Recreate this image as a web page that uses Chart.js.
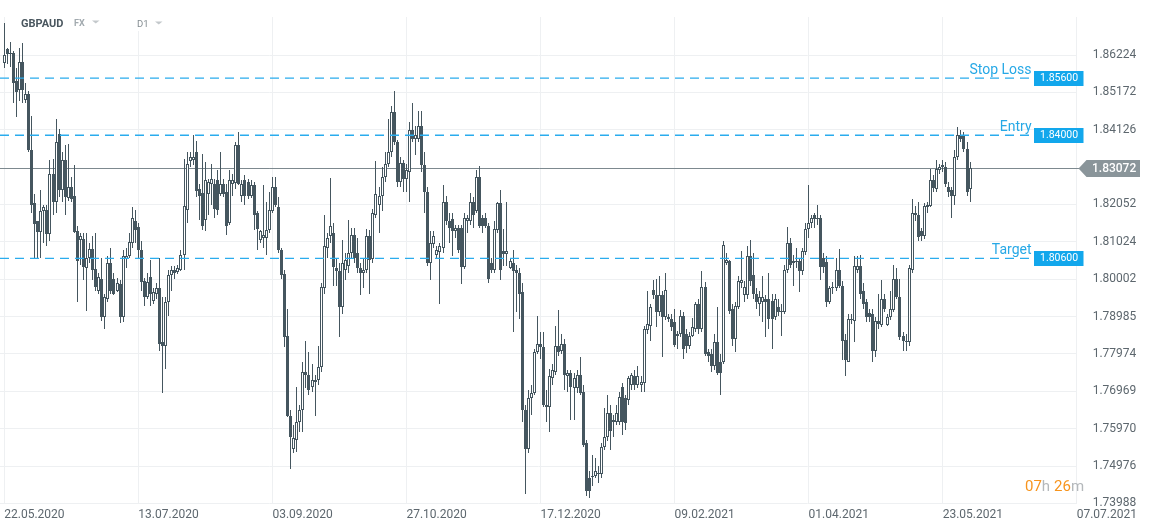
<!DOCTYPE html>
<html>
<head>
<meta charset="utf-8">
<title>GBPAUD D1</title>
<script src="https://cdn.jsdelivr.net/npm/chart.js@4.4.0/dist/chart.umd.min.js"></script>
<style>
  html, body { margin: 0; padding: 0; background: #fff; }
  #wrap { width: 1151px; height: 529px; }
</style>
</head>
<body>
<div id="wrap"><canvas id="chart" width="1151" height="529"></canvas></div>
<script>
// ---- data ----
const symbol = "GBPAUD";
const dateLabels = ["22.05.2020", "13.07.2020", "03.09.2020", "27.10.2020", "17.12.2020",
  "09.02.2021", "01.04.2021", "23.05.2021", "07.07.2021"];
const dateIndexes = [0, 44, 88, 132, 176, 220, 264, 308, 352];
const priceTicks = [1.73988, 1.74976, 1.75970, 1.76969, 1.77974, 1.78985, 1.80002,
  1.81024, 1.82052, 1.84126, 1.85172, 1.86224];
const levelNames = ["Stop Loss", "Entry", "Target"];
const levelPrices = [1.856, 1.840, 1.806];
const lastPrice = 1.83072;
const countdown = ["07", "h", "26", "m"];

const opens = [
  1.8600,1.8638,1.8629,1.8629,1.8549,1.8524,1.8603,1.8495,1.8512,1.8357,
  1.8208,1.8161,1.8130,1.8188,1.8191,1.8124,1.8289,1.8211,1.8402,1.8244,
  1.8329,1.8222,1.8253,1.8230,1.8133,1.8108,1.8111,1.8030,1.8058,1.8083,
  1.8027,1.7967,1.8002,1.7898,1.7947,1.8044,1.8000,1.7969,1.7986,1.7898,
  1.8055,1.8063,1.8099,1.8161,1.8144,1.8080,1.7994,1.7953,1.8005,1.7942,
  1.7961,1.7975,1.7829,1.7818,1.7939,1.8011,1.8025,1.8019,1.8025,1.8066,
  1.8191,1.8326,1.8329,1.8351,1.8247,1.8236,1.8163,1.8233,1.8261,1.8261,
  1.8272,1.8233,1.8261,1.8239,1.8155,1.8261,1.8264,1.8371,1.8230,1.8272,
  1.8267,1.8230,1.8258,1.8183,1.8108,1.8113,1.8113,1.8136,1.8188,1.8253,
  1.8197,1.8080,1.8014,1.7846,1.7631,1.7544,1.7566,1.7615,1.7647,1.7750,
  1.7742,1.7709,1.7723,1.7726,1.7761,1.7975,1.8086,1.8119,1.8127,1.8030,
  1.8022,1.7925,1.8025,1.8036,1.8072,1.8122,1.8072,1.8030,1.8016,1.8025,
  1.8119,1.8055,1.8177,1.8205,1.8230,1.8281,1.8317,1.8351,1.8461,1.8379,
  1.8267,1.8320,1.8275,1.8295,1.8413,1.8388,1.8388,1.8422,1.8315,1.8239,
  1.8044,1.8097,1.8066,1.8074,1.8086,1.8211,1.8161,1.8164,1.8133,1.8141,
  1.8141,1.8033,1.8161,1.8161,1.8211,1.8188,1.8281,1.8169,1.8169,1.8147,
  1.8044,1.8025,1.8136,1.8208,1.8077,1.8069,1.8030,1.8044,1.8025,1.8016,
  1.7964,1.7647,1.7544,1.7680,1.7693,1.7802,1.7824,1.7816,1.7661,1.7655,
  1.7734,1.7750,1.7818,1.7805,1.7824,1.7737,1.7747,1.7707,1.7707,1.7742,
  1.7696,1.7558,1.7467,1.7469,1.7472,1.7480,1.7477,1.7547,1.7574,1.7639,
  1.7615,1.7615,1.7615,1.7709,1.7680,1.7674,1.7715,1.7737,1.7715,1.7715,
  1.7720,1.7862,1.7873,1.7972,1.7958,1.7912,1.7956,1.7898,1.7892,1.7892,
  1.7884,1.7846,1.7851,1.7901,1.7851,1.7818,1.7846,1.7865,1.7934,1.7865,
  1.7980,1.7802,1.7797,1.7764,1.7829,1.7777,1.7777,1.8044,1.8050,1.7920,
  1.7838,1.7925,1.7989,1.7956,1.7956,1.8063,1.8011,1.7961,1.7934,1.7939,
  1.7945,1.7945,1.7942,1.7898,1.7925,1.7912,1.7912,1.8025,1.8099,1.8050,
  1.8047,1.8050,1.8022,1.8074,1.8138,1.8155,1.8175,1.8169,1.8169,1.8058,
  1.8047,1.7939,1.7975,1.7975,1.8025,1.7983,1.7835,1.7777,1.7890,1.7887,
  1.8025,1.8036,1.7967,1.7939,1.7909,1.7906,1.7805,1.7887,1.7876,1.7945,
  1.7876,1.7898,1.7917,1.8002,1.7953,1.7846,1.7829,1.7829,1.8025,1.8183,
  1.8175,1.8133,1.8119,1.8197,1.8202,1.8272,1.8247,1.8300,1.8309,1.8309,
  1.8253,1.8244,1.8230,1.8337,1.8399,1.8399,1.8360,1.8247
];
const highs = [
  1.8712,1.8643,1.8660,1.8635,1.8586,1.8643,1.8655,1.8543,1.8521,1.8450,
  1.8233,1.8161,1.8244,1.8205,1.8205,1.8329,1.8332,1.8444,1.8416,1.8351,
  1.8371,1.8374,1.8281,1.8315,1.8147,1.8127,1.8127,1.8127,1.8099,1.8119,
  1.8127,1.8016,1.8058,1.7961,1.8063,1.8086,1.8016,1.8003,1.7997,1.8080,
  1.8086,1.8127,1.8197,1.8189,1.8155,1.8105,1.8003,1.8016,1.8052,1.7975,
  1.7989,1.8058,1.7953,1.7953,1.8025,1.8036,1.8036,1.8038,1.8080,1.8331,
  1.8351,1.8351,1.8399,1.8382,1.8261,1.8345,1.8323,1.8275,1.8317,1.8275,
  1.8300,1.8351,1.8275,1.8261,1.8300,1.8289,1.8379,1.8407,1.8272,1.8286,
  1.8275,1.8272,1.8267,1.8186,1.8136,1.8258,1.8211,1.8239,1.8281,1.8281,
  1.8225,1.8086,1.8025,1.7920,1.7647,1.7606,1.7709,1.7661,1.7777,1.7832,
  1.7802,1.7769,1.7742,1.7818,1.7989,1.8175,1.8127,1.8278,1.8155,1.8058,
  1.8044,1.8108,1.8072,1.8163,1.8141,1.8141,1.8113,1.8044,1.8058,1.8138,
  1.8136,1.8194,1.8326,1.8253,1.8309,1.8351,1.8444,1.8478,1.8521,1.8385,
  1.8337,1.8329,1.8317,1.8433,1.8487,1.8422,1.8464,1.8464,1.8351,1.8253,
  1.8133,1.8133,1.8091,1.8099,1.8258,1.8230,1.8183,1.8183,1.8150,1.8150,
  1.8150,1.8183,1.8177,1.8236,1.8225,1.8300,1.8312,1.8177,1.8183,1.8155,
  1.8058,1.8161,1.8211,1.8244,1.8138,1.8211,1.8058,1.8080,1.8039,1.8030,
  1.7989,1.7661,1.7701,1.7715,1.7810,1.7901,1.7857,1.7857,1.7701,1.7756,
  1.7769,1.7873,1.7917,1.7851,1.7838,1.7755,1.7755,1.7747,1.7755,1.7788,
  1.7715,1.7566,1.7485,1.7526,1.7520,1.7499,1.7558,1.7652,1.7688,1.7661,
  1.7633,1.7661,1.7696,1.7720,1.7688,1.7737,1.7745,1.7755,1.7764,1.7737,
  1.7873,1.7967,1.7934,1.7997,1.8000,1.8008,1.7967,1.8016,1.7906,1.7906,
  1.7920,1.7860,1.7917,1.7912,1.7865,1.7857,1.7895,1.7939,1.7947,1.8022,
  1.7992,1.7810,1.7810,1.7851,1.7925,1.7797,1.8105,1.8072,1.8052,1.7934,
  1.7939,1.8008,1.8077,1.7994,1.8091,1.8108,1.8072,1.7975,1.7967,1.8008,
  1.7956,1.8016,1.7961,1.7961,1.7945,1.7934,1.8039,1.8144,1.8113,1.8066,
  1.8086,1.8058,1.8086,1.8155,1.8258,1.8177,1.8183,1.8205,1.8177,1.8072,
  1.8063,1.7983,1.7992,1.8058,1.8083,1.7994,1.7851,1.7906,1.7906,1.8063,
  1.8063,1.8066,1.7989,1.7947,1.7920,1.7920,1.7898,1.7961,1.7997,1.7961,
  1.7906,1.7967,1.8039,1.8030,1.8000,1.7857,1.7851,1.8039,1.8219,1.8202,
  1.8211,1.8141,1.8208,1.8211,1.8303,1.8286,1.8329,1.8317,1.8329,1.8323,
  1.8267,1.8253,1.8357,1.8419,1.8413,1.8407,1.8379,1.8323
];
const lows = [
  1.8586,1.8598,1.8589,1.8487,1.8447,1.8492,1.8487,1.8487,1.8351,1.8183,
  1.8058,1.8058,1.8058,1.8099,1.8091,1.8105,1.8175,1.8183,1.8225,1.8211,
  1.8177,1.8216,1.8211,1.8127,1.7939,1.8039,1.7997,1.7914,1.8044,1.7997,
  1.7967,1.7961,1.7887,1.7865,1.7939,1.7961,1.7956,1.7964,1.7881,1.7884,
  1.8030,1.8058,1.8086,1.8099,1.8058,1.7969,1.7928,1.7945,1.7928,1.7934,
  1.7947,1.7805,1.7693,1.7756,1.7901,1.7967,1.8002,1.8014,1.8022,1.8025,
  1.8155,1.8309,1.8314,1.8225,1.8163,1.8136,1.8133,1.8177,1.8205,1.8169,
  1.8177,1.8230,1.8225,1.8122,1.8150,1.8230,1.8247,1.8258,1.8211,1.8205,
  1.8219,1.8222,1.8136,1.8080,1.8099,1.8086,1.8066,1.8127,1.8183,1.8197,
  1.8072,1.8000,1.7816,1.7628,1.7491,1.7531,1.7534,1.7588,1.7588,1.7707,
  1.7688,1.7696,1.7631,1.7715,1.7750,1.7961,1.8058,1.8099,1.7983,1.7983,
  1.7843,1.7906,1.7997,1.8016,1.8058,1.8044,1.8016,1.7956,1.7975,1.8016,
  1.7961,1.8044,1.8169,1.8127,1.8188,1.8267,1.8309,1.8337,1.8371,1.8253,
  1.8253,1.8239,1.8239,1.8211,1.8379,1.8343,1.8379,1.8295,1.8183,1.8036,
  1.7997,1.8086,1.8058,1.7934,1.8072,1.8150,1.8099,1.8063,1.8113,1.8072,
  1.7986,1.8027,1.8127,1.8150,1.8141,1.8183,1.8141,1.8127,1.8141,1.7989,
  1.8016,1.8016,1.8127,1.7997,1.8036,1.8036,1.8027,1.7857,1.7912,1.7892,
  1.7615,1.7424,1.7531,1.7633,1.7688,1.7797,1.7783,1.7655,1.7615,1.7588,
  1.7715,1.7742,1.7791,1.7797,1.7701,1.7696,1.7620,1.7620,1.7693,1.7688,
  1.7547,1.7418,1.7413,1.7445,1.7466,1.7453,1.7466,1.7539,1.7563,1.7539,
  1.7574,1.7606,1.7606,1.7579,1.7593,1.7661,1.7701,1.7701,1.7707,1.7696,
  1.7696,1.7851,1.7832,1.7947,1.7870,1.7901,1.7788,1.7890,1.7884,1.7860,
  1.7816,1.7810,1.7843,1.7783,1.7799,1.7810,1.7843,1.7857,1.7851,1.7857,
  1.7791,1.7775,1.7750,1.7755,1.7742,1.7688,1.7769,1.8039,1.7906,1.7818,
  1.7802,1.7920,1.7975,1.7939,1.7947,1.7983,1.7947,1.7920,1.7901,1.7884,
  1.7843,1.7865,1.7810,1.7890,1.7901,1.7846,1.7906,1.8016,1.8030,1.7983,
  1.8030,1.7964,1.8011,1.8066,1.8113,1.8141,1.8141,1.8150,1.7997,1.8016,
  1.7925,1.7934,1.7961,1.7967,1.7975,1.7780,1.7737,1.7775,1.7879,1.7829,
  1.8016,1.7947,1.7920,1.7884,1.7884,1.7777,1.7788,1.7865,1.7870,1.7912,
  1.7873,1.7890,1.7912,1.7945,1.7835,1.7805,1.7805,1.7818,1.8016,1.8161,
  1.8105,1.8105,1.8111,1.8183,1.8197,1.8239,1.8239,1.8289,1.8295,1.8253,
  1.8225,1.8169,1.8205,1.8329,1.8379,1.8351,1.8228,1.8211
];
const closes = [
  1.8623,1.8626,1.8626,1.8543,1.8518,1.8603,1.8524,1.8512,1.8357,1.8205,
  1.8152,1.8130,1.8186,1.8197,1.8124,1.8289,1.8213,1.8379,1.8244,1.8329,
  1.8225,1.8253,1.8219,1.8130,1.8050,1.8119,1.8033,1.8058,1.8083,1.8025,
  1.7980,1.8005,1.7898,1.7953,1.8044,1.7969,1.7961,1.7989,1.7898,1.8063,
  1.8063,1.8102,1.8169,1.8136,1.8080,1.7992,1.7953,1.7992,1.7961,1.7964,
  1.7975,1.7824,1.7818,1.7939,1.8011,1.8025,1.8016,1.8030,1.8066,1.8202,
  1.8317,1.8337,1.8337,1.8242,1.8230,1.8147,1.8272,1.8267,1.8275,1.8194,
  1.8191,1.8261,1.8233,1.8147,1.8272,1.8272,1.8371,1.8261,1.8261,1.8230,
  1.8230,1.8258,1.8175,1.8138,1.8133,1.8122,1.8136,1.8191,1.8253,1.8205,
  1.8080,1.8011,1.7843,1.7631,1.7574,1.7571,1.7615,1.7647,1.7750,1.7742,
  1.7701,1.7726,1.7728,1.7761,1.7980,1.8091,1.8113,1.8147,1.8033,1.8022,
  1.7925,1.8044,1.8052,1.8072,1.8122,1.8058,1.8030,1.8016,1.8025,1.8119,
  1.8052,1.8183,1.8233,1.8230,1.8281,1.8317,1.8351,1.8461,1.8379,1.8267,
  1.8320,1.8275,1.8300,1.8413,1.8388,1.8399,1.8422,1.8315,1.8239,1.8044,
  1.8099,1.8119,1.8080,1.8091,1.8211,1.8161,1.8141,1.8133,1.8141,1.8080,
  1.8033,1.8169,1.8169,1.8211,1.8175,1.8281,1.8147,1.8147,1.8147,1.8000,
  1.8025,1.8138,1.8208,1.8025,1.8069,1.8077,1.8050,1.8022,1.8016,1.7961,
  1.7647,1.7544,1.7680,1.7693,1.7802,1.7824,1.7816,1.7661,1.7655,1.7737,
  1.7755,1.7818,1.7802,1.7824,1.7742,1.7747,1.7709,1.7734,1.7742,1.7693,
  1.7553,1.7432,1.7432,1.7472,1.7485,1.7477,1.7547,1.7574,1.7639,1.7590,
  1.7620,1.7639,1.7682,1.7615,1.7612,1.7734,1.7742,1.7715,1.7737,1.7723,
  1.7865,1.7879,1.7925,1.7958,1.7912,1.7956,1.7898,1.7972,1.7898,1.7870,
  1.7821,1.7851,1.7901,1.7810,1.7818,1.7846,1.7870,1.7934,1.7865,1.7980,
  1.7797,1.7791,1.7764,1.7829,1.7747,1.7747,1.8094,1.8052,1.7914,1.7838,
  1.7928,1.7994,1.7997,1.7980,1.8063,1.7994,1.7961,1.7939,1.7953,1.7953,
  1.7939,1.7892,1.7892,1.7945,1.7912,1.7914,1.8025,1.8099,1.8039,1.8044,
  1.8050,1.8022,1.8077,1.8138,1.8155,1.8169,1.8164,1.8164,1.8033,1.8033,
  1.7939,1.7975,1.7980,1.8025,1.7983,1.7832,1.7780,1.7892,1.7892,1.8036,
  1.8036,1.7961,1.7934,1.7898,1.7898,1.7805,1.7887,1.7879,1.7945,1.7920,
  1.7898,1.7920,1.8002,1.7953,1.7843,1.7832,1.7832,1.8030,1.8183,1.8175,
  1.8116,1.8119,1.8200,1.8205,1.8272,1.8250,1.8303,1.8309,1.8314,1.8261,
  1.8239,1.8228,1.8337,1.8399,1.8388,1.8360,1.8239,1.83072
];

// ---- styling ----
const CANDLE = "#45565f";
const GRID = "#eef0f2";
const AXIS_TEXT = "#5d676e";
const LEVEL_BLUE = "#12a7ec";
const LEVEL_LINE = "#2aaced";
const LEVEL_TEXT = "#26a8e6";

Chart.defaults.font.family = "Roboto, 'Open Sans', sans-serif";

const wickData = opens.map((o, i) => ({ x: i, y: [lows[i], highs[i]] }));
const bodyData = opens.map((o, i) => ({ x: i, y: [o, closes[i]] }));
const bodyFill = opens.map((o, i) => (closes[i] >= o ? "#ffffff" : CANDLE));

// snap the bar elements to whole pixels so candles stay crisp
const pixelSnap = {
  id: "pixelSnap",
  afterDatasetsUpdate(chart) {
    chart.data.datasets.forEach((ds, d) => {
      chart.getDatasetMeta(d).data.forEach(el => {
        el.x = Math.floor(el.x) + 0.5;
        el.y = Math.round(el.y);
        el.base = Math.round(el.base);
      });
    });
  }
};

// lines, tags and header that sit on top of the candles
const overlay = {
  id: "overlay",
  beforeDatasetsDraw(chart) {
    const { ctx, chartArea: a, scales: { y } } = chart;
    const py = Math.round(y.getPixelForValue(lastPrice)) + 0.5;
    ctx.save();
    ctx.strokeStyle = "#7d898f";
    ctx.lineWidth = 1;
    ctx.beginPath();
    ctx.moveTo(a.left, py);
    ctx.lineTo(a.right + 3, py);
    ctx.stroke();
    ctx.restore();
  },
  afterDatasetsDraw(chart) {
    const { ctx, chartArea: a, scales: { y } } = chart;
    ctx.save();

    // trade levels
    levelPrices.forEach((p, k) => {
      const py = y.getPixelForValue(p) + 1;
      ctx.strokeStyle = LEVEL_LINE;
      ctx.lineWidth = 1.4;
      ctx.setLineDash([9, 6]);
      ctx.beginPath();
      ctx.moveTo(a.left, py);
      ctx.lineTo(1034, py);
      ctx.stroke();
      ctx.setLineDash([]);

      ctx.fillStyle = LEVEL_BLUE;
      ctx.fillRect(1034, Math.round(py - 7.5), 49.5, 15);
      ctx.fillStyle = "#ffffff";
      ctx.font = "10.5px Roboto";
      ctx.textAlign = "left";
      ctx.textBaseline = "middle";
      ctx.fillText(p.toFixed(5), 1040, Math.round(py) + 0.5);

      ctx.fillStyle = LEVEL_TEXT;
      ctx.font = "14px Roboto";
      ctx.textAlign = "right";
      ctx.textBaseline = "alphabetic";
      ctx.fillText(levelNames[k], 1031.5, py - 4.5);
    });

    // last price tag
    const lp = Math.round(y.getPixelForValue(lastPrice)) + 0.5;
    ctx.fillStyle = "#8a959a";
    ctx.beginPath();
    ctx.moveTo(1078.5, lp);
    ctx.lineTo(1086.5, lp - 8.5);
    ctx.lineTo(1140, lp - 8.5);
    ctx.lineTo(1140, lp + 8.5);
    ctx.lineTo(1086.5, lp + 8.5);
    ctx.closePath();
    ctx.fill();
    ctx.fillStyle = "#ffffff";
    ctx.font = "500 12px Roboto";
    ctx.textAlign = "left";
    ctx.textBaseline = "middle";
    ctx.fillText(lastPrice.toFixed(5), 1092, lp + 0.5);

    // candle countdown
    ctx.font = "15px Roboto";
    ctx.textBaseline = "alphabetic";
    let cx = 1025;
    countdown.forEach((part, k) => {
      ctx.fillStyle = k % 2 === 0 ? "#f7941d" : "#b4b8bb";
      ctx.fillText(part, cx, 490.5);
      cx += ctx.measureText(part).width + (k === 1 ? 4 : 0);
    });

    // header
    ctx.fillStyle = "#ffffff";
    ctx.fillRect(12, 0, 158, 31);
    ctx.fillStyle = "#4a575f";
    ctx.font = "bold 11px Roboto";
    ctx.fillText(symbol, 21, 26.5);
    ctx.fillStyle = "#a2aaaf";
    ctx.font = "bold 9px Roboto";
    ctx.fillText("FX", 74, 26);
    ctx.fillStyle = "#838c91";
    ctx.font = "9.5px Roboto";
    ctx.fillText("D1", 137, 26.5);
    ctx.fillStyle = "#c3c8cb";
    [[92, 20.5], [155, 21.5]].forEach(([tx, ty]) => {
      ctx.beginPath();
      ctx.moveTo(tx, ty);
      ctx.lineTo(tx + 7.5, ty);
      ctx.lineTo(tx + 3.75, ty + 3);
      ctx.closePath();
      ctx.fill();
    });

    ctx.restore();
  }
};

new Chart(document.getElementById("chart"), {
  type: "bar",
  data: {
    datasets: [
      {
        label: "body",
        data: bodyData,
        order: 0,
        grouped: false,
        barThickness: 3,
        minBarLength: 1,
        inflateAmount: 0,
        backgroundColor: bodyFill,
        borderColor: CANDLE,
        borderWidth: 1,
        borderSkipped: false
      },
      {
        label: "wick",
        data: wickData,
        order: 1,
        grouped: false,
        barThickness: 1,
        inflateAmount: 0,
        backgroundColor: CANDLE,
        borderWidth: 0
      }
    ]
  },
  options: {
    responsive: false,
    animation: false,
    devicePixelRatio: 1,
    layout: { padding: { top: 17, left: 0, right: 0, bottom: 0 } },
    plugins: { legend: { display: false }, tooltip: { enabled: false } },
    scales: {
      x: {
        type: "linear",
        min: -1.41,
        max: 352,
        bounds: "data",
        offset: false,
        grid: { color: GRID, drawTicks: false, offset: false },
        border: { display: false },
        afterBuildTicks: s => { s.ticks = dateIndexes.map(v => ({ value: v })); },
        afterFit: s => {
          s.height = 25.6;
          s.paddingLeft = 0;
          s.paddingRight = 0;
        },
        ticks: {
          autoSkip: false,
          maxRotation: 0,
          align: "start",
          padding: 4,
          color: AXIS_TEXT,
          font: { size: 12 },
          callback: (v, i) => dateLabels[i]
        }
      },
      y: {
        type: "logarithmic",
        position: "right",
        min: 1.73988,
        max: 1.873,
        bounds: "data",
        grid: { color: GRID, drawTicks: false },
        border: { display: false },
        afterBuildTicks: s => { s.ticks = priceTicks.map(v => ({ value: v })); },
        afterFit: s => {
          s.width = 74.3;
          s.paddingTop = 0;
          s.paddingBottom = 0;
        },
        ticks: {
          padding: 16,
          color: AXIS_TEXT,
          font: { size: 12 },
          callback: v => Number(v).toFixed(5)
        }
      }
    }
  },
  plugins: [pixelSnap, overlay]
});
</script>
</body>
</html>
